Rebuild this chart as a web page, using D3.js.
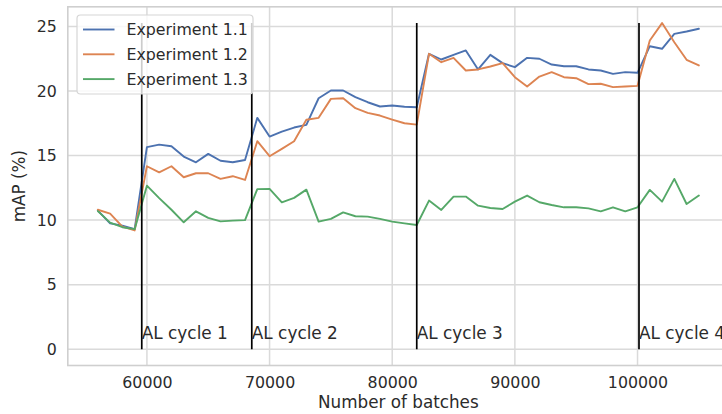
<!DOCTYPE html>
<html>
<head>
<meta charset="utf-8">
<script src="https://cdn.jsdelivr.net/npm/d3@7"></script>
<style>
  html, body { margin: 0; padding: 0; background: #ffffff; }
  svg { display: block; font-family: "DejaVu Sans", sans-serif; }
</style>
</head>
<body>
<div id="chart"></div>
<script>
// ---------------- data ----------------
const batches = [56000, 57000, 58000, 59000, 60000, 61000, 62000, 63000, 64000, 65000,
  66000, 67000, 68000, 69000, 70000, 71000, 72000, 73000, 74000, 75000,
  76000, 77000, 78000, 79000, 80000, 81000, 82000, 83000, 84000, 85000,
  86000, 87000, 88000, 89000, 90000, 91000, 92000, 93000, 94000, 95000,
  96000, 97000, 98000, 99000, 100000, 101000, 102000, 103000, 104000, 105000];

const exp11 = [10.74, 9.75, 9.57, 9.3, 15.65, 15.85, 15.72, 14.92, 14.48, 15.13,
  14.6, 14.48, 14.66, 17.92, 16.47, 16.86, 17.17, 17.38, 19.44, 20.04,
  20.04, 19.52, 19.13, 18.8, 18.88, 18.78, 18.74, 22.88, 22.44, 22.8,
  23.14, 21.67, 22.8, 22.16, 21.85, 22.57, 22.5, 22.05, 21.92, 21.92,
  21.67, 21.59, 21.33, 21.46, 21.41, 23.47, 23.27, 24.43, 24.61, 24.82];

const exp12 = [10.8, 10.5, 9.5, 9.2, 14.17, 13.7, 14.17, 13.32, 13.63, 13.63,
  13.19, 13.4, 13.11, 16.11, 14.95, 15.52, 16.11, 17.77, 17.92, 19.39,
  19.44, 18.67, 18.31, 18.1, 17.79, 17.5, 17.4, 22.88, 22.23, 22.57,
  21.59, 21.67, 21.9, 22.16, 21.07, 20.35, 21.12, 21.46, 21.07, 20.99,
  20.53, 20.56, 20.3, 20.35, 20.4, 23.91, 25.26, 23.78, 22.42, 21.98];

const exp13 = [10.7, 9.8, 9.45, 9.3, 12.67, 11.7, 10.8, 9.83, 10.68, 10.17,
  9.9, 9.96, 10.0, 12.4, 12.42, 11.38, 11.72, 12.36, 9.88, 10.09,
  10.6, 10.3, 10.27, 10.09, 9.88, 9.75, 9.62, 11.51, 10.79, 11.82,
  11.82, 11.12, 10.94, 10.86, 11.43, 11.9, 11.38, 11.17, 10.99, 10.99,
  10.91, 10.68, 10.99, 10.68, 10.99, 12.34, 11.43, 13.19, 11.25, 11.9];

const seriesNames = ["Experiment 1.1", "Experiment 1.2", "Experiment 1.3"];
const seriesColors = ["#4C72B0", "#DD8452", "#55A868"];

const cycleBatches = [59580, 68550, 82000, 100120];
const cycleLabels = ["AL cycle 1", "AL cycle 2", "AL cycle 3", "AL cycle 4"];

const xTicks = [60000, 70000, 80000, 90000, 100000];
const yTicks = [0, 5, 10, 15, 20, 25];

const xLabel = "Number of batches";
const yLabel = "mAP (%)";

// ---------------- layout ----------------
const W = 722, H = 414;
const plot = { left: 67.8, right: 728.9, top: 6.8, bottom: 365.5 };

const allSeries = [exp11, exp12, exp13];
const yMaxData = d3.max(allSeries.flat());

const x = d3.scaleLinear().domain([53550, 107450]).range([plot.left, plot.right]);
const y = d3.scaleLinear().domain([-1.263, 26.523]).range([plot.bottom, plot.top]);

const svg = d3.select("#chart").append("svg")
  .attr("width", W).attr("height", H);

const textColor = "#2b2b2b";
const gridColor = "#dadada";
const fontSize = 15.8;

svg.append("defs").append("clipPath").attr("id", "clip")
  .append("rect")
  .attr("x", plot.left).attr("y", plot.top)
  .attr("width", plot.right - plot.left).attr("height", plot.bottom - plot.top);

// grid
const grid = svg.append("g");
grid.selectAll(".gx").data(xTicks).join("line")
  .attr("x1", d => x(d)).attr("x2", d => x(d))
  .attr("y1", plot.top).attr("y2", plot.bottom)
  .attr("stroke", gridColor).attr("stroke-width", 1.5);
grid.selectAll(".gy").data(yTicks).join("line")
  .attr("x1", plot.left).attr("x2", plot.right)
  .attr("y1", d => y(d)).attr("y2", d => y(d))
  .attr("stroke", gridColor).attr("stroke-width", 1.5);

// spines
svg.append("rect")
  .attr("x", plot.left).attr("y", plot.top)
  .attr("width", plot.right - plot.left).attr("height", plot.bottom - plot.top)
  .attr("fill", "none").attr("stroke", "#cfcfcf").attr("stroke-width", 1.6);

// axes
const xAxis = d3.axisBottom(x).tickValues(xTicks).tickFormat(d3.format("d")).tickSize(0).tickPadding(11);
const gx = svg.append("g").attr("transform", `translate(0,${plot.bottom})`).call(xAxis);
gx.select(".domain").remove();
gx.selectAll("text").attr("fill", textColor).style("font-size", fontSize + "px")
  .style("font-family", "DejaVu Sans");

const yAxis = d3.axisLeft(y).tickValues(yTicks).tickFormat(d3.format("d")).tickSize(0).tickPadding(11);
const gy = svg.append("g").attr("transform", `translate(${plot.left},0)`).call(yAxis);
gy.select(".domain").remove();
gy.selectAll("text").attr("fill", textColor).style("font-size", fontSize + "px")
  .style("font-family", "DejaVu Sans");

// axis labels
svg.append("text")
  .attr("x", (plot.left + plot.right) / 2).attr("y", 407.5)
  .attr("text-anchor", "middle").attr("fill", textColor)
  .style("font-size", "16.8px").text(xLabel);

svg.append("text")
  .attr("transform", `translate(24.5,${(plot.top + plot.bottom) / 2}) rotate(-90)`)
  .attr("text-anchor", "middle").attr("fill", textColor)
  .style("font-size", "16.8px").text(yLabel);

// lines
const plotG = svg.append("g").attr("clip-path", "url(#clip)");
const line = d3.line().x((d, i) => x(batches[i])).y(d => y(d));
allSeries.forEach((s, k) => {
  plotG.append("path").datum(s)
    .attr("d", line)
    .attr("fill", "none")
    .attr("stroke", seriesColors[k])
    .attr("stroke-width", 1.9)
    .attr("stroke-linejoin", "round")
    .attr("stroke-linecap", "round");
});

// AL cycle vertical lines
plotG.selectAll(".vl").data(cycleBatches).join("line")
  .attr("x1", d => x(d)).attr("x2", d => x(d))
  .attr("y1", y(0)).attr("y2", y(yMaxData))
  .attr("stroke", "#000000").attr("stroke-width", 1.7);

svg.selectAll(".cl").data(cycleBatches).join("text")
  .attr("x", d => x(d)).attr("y", y(0.8))
  .attr("fill", textColor)
  .style("font-size", "16.9px")
  .text((d, i) => cycleLabels[i]);

// legend
const lg = svg.append("g");
lg.append("rect")
  .attr("x", 77).attr("y", 15).attr("width", 176).attr("height", 79)
  .attr("rx", 3.5).attr("ry", 3.5)
  .attr("fill", "#ffffff").attr("fill-opacity", 0.8)
  .attr("stroke", "#d6d6d6").attr("stroke-width", 1.2);
seriesNames.forEach((name, k) => {
  const cy = 29.5 + k * 24.8;
  lg.append("line")
    .attr("x1", 83).attr("x2", 114.5).attr("y1", cy).attr("y2", cy)
    .attr("stroke", seriesColors[k]).attr("stroke-width", 1.9);
  lg.append("text")
    .attr("x", 126.5).attr("y", cy).attr("dy", "0.36em")
    .attr("fill", textColor)
    .style("font-size", fontSize + "px")
    .text(name);
});
</script>
</body>
</html>
